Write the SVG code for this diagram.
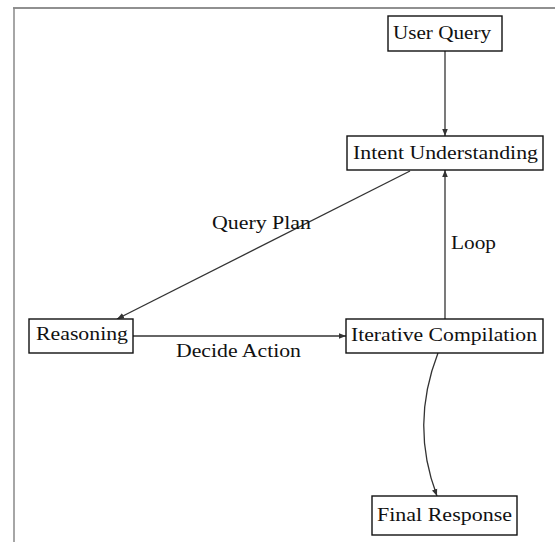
<svg xmlns="http://www.w3.org/2000/svg" width="555" height="542" viewBox="0 0 555 542">
<style>
.box{fill:#fff;stroke:#111;stroke-width:1.4}
.t{font-family:"Liberation Serif","Times New Roman",serif;font-size:18px;fill:#111}
.e{fill:none;stroke:#333;stroke-width:1.3}
</style>
<defs>
<marker id="ah" viewBox="0 0 10 10" refX="10" refY="5" markerWidth="7" markerHeight="7" orient="auto" markerUnits="userSpaceOnUse">
<path d="M0,1 L10,5 L0,9 z" fill="#333"/>
</marker>
</defs>
<rect x="0" y="0" width="555" height="542" fill="#fff"/>
<line x1="13" y1="8" x2="555" y2="8" stroke="#222" stroke-width="1.2"/>
<line x1="14" y1="8" x2="14" y2="542" stroke="#888" stroke-width="1.5"/>
<g id="connectors">
<path class="e" d="M445,51 L445,136" marker-end="url(#ah)"/>
<path class="e" d="M410,171 L117,319" marker-end="url(#ah)"/>
<path class="e" d="M133,336 L346,336" marker-end="url(#ah)"/>
<path class="e" d="M445,319 L445,170" marker-end="url(#ah)"/>
<path class="e" d="M438,353 Q410,425 437,496" marker-end="url(#ah)"/>
<text class="t" x="212" y="229" textLength="99" lengthAdjust="spacingAndGlyphs">Query Plan</text>
<text class="t" x="176" y="357" textLength="125" lengthAdjust="spacingAndGlyphs">Decide Action</text>
<text class="t" x="451" y="249" textLength="45" lengthAdjust="spacingAndGlyphs">Loop</text>
</g>
<g id="user-query">
<rect class="box" x="388" y="16" width="114" height="35"/>
<text class="t" x="393" y="39" textLength="98" lengthAdjust="spacingAndGlyphs">User Query</text>
</g>
<g id="intent-understanding">
<rect class="box" x="347" y="136" width="196" height="34"/>
<text class="t" x="353" y="159" textLength="185" lengthAdjust="spacingAndGlyphs">Intent Understanding</text>
</g>
<g id="reasoning">
<rect class="box" x="29" y="319" width="104" height="34"/>
<text class="t" x="36" y="340" textLength="92" lengthAdjust="spacingAndGlyphs">Reasoning</text>
</g>
<g id="iterative-compilation">
<rect class="box" x="346" y="319" width="197" height="34"/>
<text class="t" x="351" y="341" textLength="186" lengthAdjust="spacingAndGlyphs">Iterative Compilation</text>
</g>
<g id="final-response">
<rect class="box" x="372" y="496" width="145" height="39"/>
<text class="t" x="377" y="521" textLength="135" lengthAdjust="spacingAndGlyphs">Final Response</text>
</g>
</svg>
